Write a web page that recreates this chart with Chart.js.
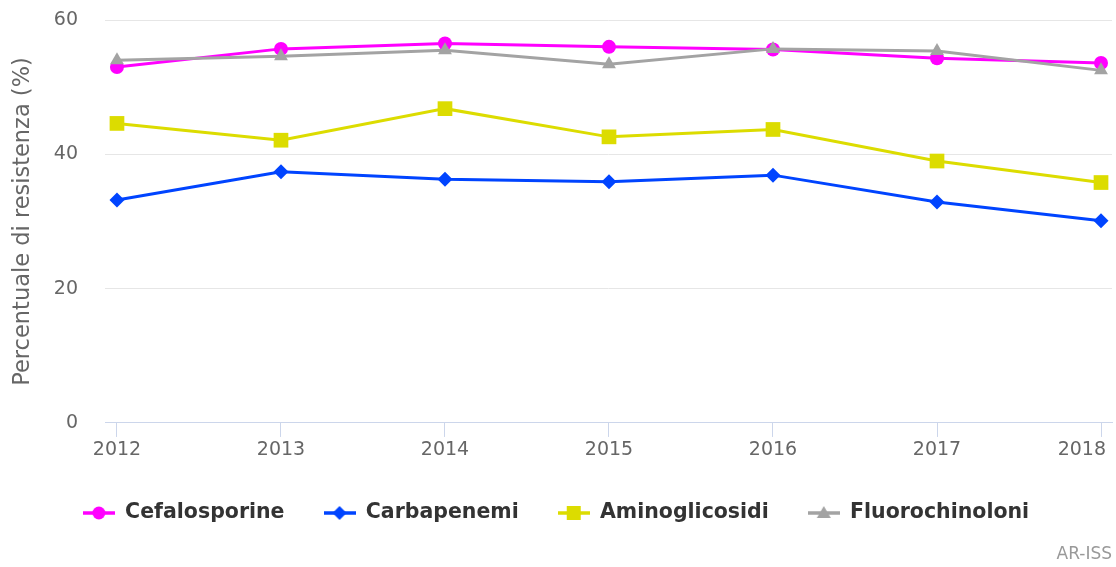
<!DOCTYPE html>
<html>
<head>
<meta charset="utf-8">
<title>Percentuale di resistenza</title>
<script src="https://cdn.jsdelivr.net/npm/chart.js@4/dist/chart.umd.min.js"></script>
<style>
  html, body { margin: 0; padding: 0; background: #fff; }
  #wrap { width: 1116px; height: 567px; }
</style>
</head>
<body>
<div id="wrap"><canvas id="resistChart" width="1116" height="567"></canvas></div>
<script>
// --- dati ---
const years = [2012, 2013, 2014, 2015, 2016, 2017, 2018];
const yearLabels = ['2012', '2013', '2014', '2015', '2016', '2017', '2018'];
const yTickValues = [0, 20, 40, 60];

const cefalosporine   = [53.0, 55.7, 56.5, 56.0, 55.6, 54.3, 53.6];
const carbapenemi     = [33.2, 37.4, 36.3, 35.9, 36.9, 32.9, 30.1];
const aminoglicosidi  = [44.6, 42.1, 46.8, 42.6, 43.7, 39.0, 35.8];
const fluorochinoloni = [54.0, 54.6, 55.5, 53.4, 55.7, 55.4, 52.5];

const seriesNames = ['Cefalosporine', 'Carbapenemi', 'Aminoglicosidi', 'Fluorochinoloni'];
const seriesValues = [cefalosporine, carbapenemi, aminoglicosidi, fluorochinoloni];

// --- stile ---
const seriesColors = ['#ff00ff', '#0044ff', '#dcdc00', '#a3a3a3'];
const markerStyles = ['circle', 'rectRot', 'rect', 'triangle'];
const markerRadius = [7, 7.5, 10.4, 8];

Chart.defaults.font.family = '"DejaVu Sans", Verdana, sans-serif';

// piccola icona per la legenda: linea + marcatore
function legendIcon(color, style) {
    const c = document.createElement('canvas');
    c.width = 32;
    c.height = 20;
    const g = c.getContext('2d');
    const cx = 16, cy = 10;
    g.strokeStyle = color;
    g.fillStyle = color;
    g.lineWidth = 3.5;
    g.beginPath();
    g.moveTo(0, cy);
    g.lineTo(32, cy);
    g.stroke();
    g.beginPath();
    if (style === 'circle') {
        g.arc(cx, cy, 6.5, 0, Math.PI * 2);
    } else if (style === 'rectRot') {
        g.moveTo(cx, cy - 7); g.lineTo(cx + 7, cy); g.lineTo(cx, cy + 7); g.lineTo(cx - 7, cy);
    } else if (style === 'rect') {
        g.rect(cx - 7, cy - 7, 14, 14);
    } else {
        g.moveTo(cx, cy - 7); g.lineTo(cx + 7, cy + 5); g.lineTo(cx - 7, cy + 5);
    }
    g.closePath();
    g.fill();
    return c;
}
const icons = seriesNames.map((n, i) => legendIcon(seriesColors[i], markerStyles[i]));

// etichetta "AR-ISS" in basso a destra
const creditsPlugin = {
    id: 'credits',
    afterDraw(chart) {
        const ctx = chart.ctx;
        ctx.save();
        ctx.font = '17px "DejaVu Sans", sans-serif';
        ctx.fillStyle = '#999999';
        ctx.textAlign = 'right';
        ctx.textBaseline = 'middle';
        ctx.fillText('AR-ISS', chart.width - 4, 555);
        ctx.restore();
    }
};

// l'ultima etichetta dell'asse x resta dentro il bordo (come nell'originale)
const lastLabelPlugin = {
    id: 'lastLabel',
    beforeDraw(chart) {
        const items = chart.scales.x.getLabelItems(chart.chartArea);
        const last = items[items.length - 1];
        if (last) {
            last.options.textAlign = 'right';
            last.options.translation[0] = chart.width - 10;
        }
    }
};

const datasets = seriesNames.map((name, i) => ({
    label: name,
    data: years.map((yr, j) => ({ x: yr, y: seriesValues[i][j] })),
    borderColor: seriesColors[i],
    backgroundColor: seriesColors[i],
    borderWidth: 3,
    tension: 0,
    pointStyle: markerStyles[i],
    pointRadius: markerRadius[i],
    pointBackgroundColor: seriesColors[i],
    pointBorderWidth: 0,
    order: seriesNames.length - i
}));

const canvas = document.getElementById('resistChart');
new Chart(canvas.getContext('2d'), {
    type: 'line',
    data: { datasets: datasets },
    plugins: [creditsPlugin, lastLabelPlugin],
    options: {
        responsive: false,
        animation: false,
        events: [],
        layout: { autoPadding: false, padding: { top: 20, right: 4, bottom: 33.75, left: 0 } },
        plugins: {
            tooltip: { enabled: false },
            legend: {
                position: 'bottom',
                align: 'center',
                labels: {
                    usePointStyle: true,
                    pointStyleWidth: 32,
                    padding: 39,
                    color: '#333333',
                    font: { size: 20.5, weight: 'bold' },
                    generateLabels: chart => chart.data.datasets.map((ds, i) => ({
                        text: ds.label,
                        pointStyle: icons[i],
                        fillStyle: ds.borderColor,
                        strokeStyle: ds.borderColor,
                        lineWidth: 0,
                        fontColor: '#333333',
                        hidden: !chart.isDatasetVisible(i),
                        datasetIndex: i
                    }))
                }
            }
        },
        scales: {
            x: {
                type: 'linear',
                min: 2011.927,
                max: 2018.067,
                afterBuildTicks: s => { s.ticks = years.map(v => ({ value: v })); },
                afterFit: s => { s.paddingLeft = 0; s.paddingRight = 0; },
                ticks: {
                    callback: (v, i) => yearLabels[i],
                    color: '#666666',
                    font: { size: 19 },
                    padding: 2,
                    maxRotation: 0,
                    autoSkip: false
                },
                grid: {
                    drawOnChartArea: false,
                    drawTicks: true,
                    tickLength: 14,
                    color: '#ccd6eb',
                    lineWidth: 1
                },
                border: { display: true, color: '#ccd6eb', width: 1 }
            },
            y: {
                min: 0,
                max: 60,
                afterBuildTicks: s => { s.ticks = yTickValues.map(v => ({ value: v })); },
                afterFit: s => { s.width = 105; s.paddingTop = 0; s.paddingBottom = 0; },
                ticks: { color: '#666666', font: { size: 19 }, padding: 27 },
                grid: {
                    drawTicks: false,
                    color: c => (c.tick && c.tick.value === 0) ? 'rgba(0,0,0,0)' : '#e6e6e6',
                    lineWidth: 1
                },
                border: { display: false },
                title: {
                    display: true,
                    text: 'Percentuale di resistenza (%)',
                    color: '#666666',
                    font: { size: 22.5 },
                    padding: { top: 10, bottom: 0 }
                }
            }
        }
    }
});
</script>
</body>
</html>
